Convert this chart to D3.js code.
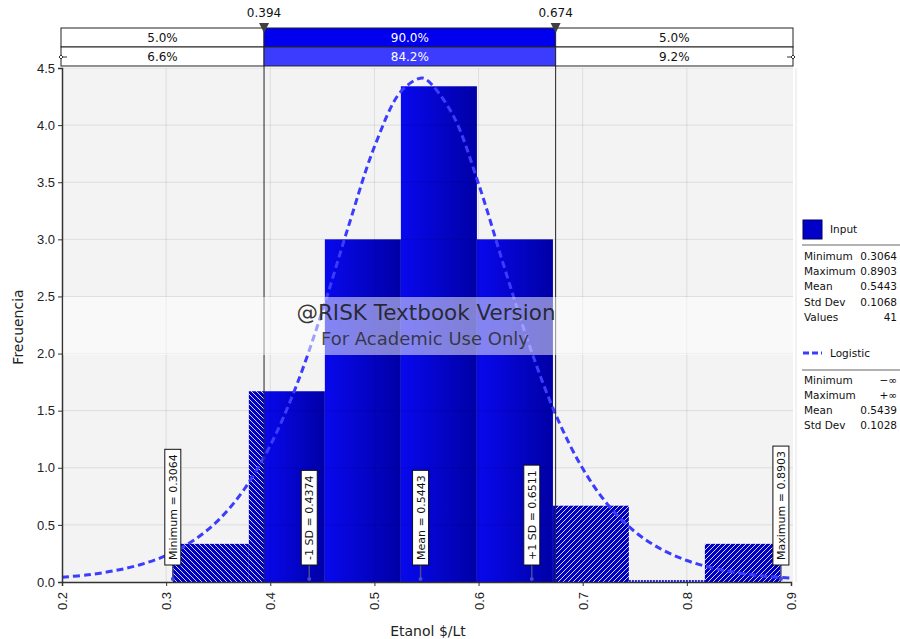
<!DOCTYPE html>
<html>
<head>
<meta charset="utf-8">
<script src="https://cdn.jsdelivr.net/npm/d3@7"></script>
<style>
body { margin: 0; background: #fff; }
svg { font-family: "DejaVu Sans", sans-serif; display: block; }
</style>
</head>
<body>
<svg width="900" height="639"></svg>
<script>
var binEdges = [0.3064, 0.3794, 0.4524, 0.5254, 0.5984, 0.6714, 0.7443, 0.8173, 0.8903];
var binHeights = [0.334, 1.67, 3.0, 4.34, 3.0, 0.668, 0.0, 0.334];

// logistic fit
var fitX = [0.2, 0.225, 0.25, 0.275, 0.3, 0.325, 0.35, 0.375, 0.4, 0.425, 0.45, 0.475, 0.5, 0.525, 0.544,
            0.55, 0.575, 0.6, 0.625, 0.65, 0.675, 0.7, 0.725, 0.75, 0.775, 0.8, 0.825, 0.85, 0.875, 0.9];
var fitY = [0.041, 0.063, 0.098, 0.151, 0.232, 0.356, 0.540, 0.812, 1.196, 1.717, 2.373, 3.112, 3.810, 4.290, 4.411,
            4.398, 4.095, 3.485, 2.747, 2.039, 1.446, 0.993, 0.667, 0.441, 0.289, 0.188, 0.122, 0.079, 0.051, 0.033];

var cursorValues = [0.394, 0.674];
var cursorLabels = ["0.394", "0.674"];
var inputRow = ["5.0%", "90.0%", "5.0%"];
var fitRow = ["6.6%", "84.2%", "9.2%"];

var markerNames = ["Minimum", "-1 SD", "Mean", "+1 SD", "Maximum"];
var markerValues = [0.3064, 0.4374, 0.5443, 0.6511, 0.8903];
var markerLabels = ["0.3064", "0.4374", "0.5443", "0.6511", "0.8903"];

var inputStatNames = ["Minimum", "Maximum", "Mean", "Std Dev", "Values"];
var inputStatValues = ["0.3064", "0.8903", "0.5443", "0.1068", "41"];
var fitStatNames = ["Minimum", "Maximum", "Mean", "Std Dev"];
var fitStatValues = ["\u2212\u221e", "+\u221e", "0.5439", "0.1028"];

var xTicks = [0.2, 0.3, 0.4, 0.5, 0.6, 0.7, 0.8, 0.9];
var yTicks = [0, 0.5, 1, 1.5, 2, 2.5, 3, 3.5, 4, 4.5];

var svg = d3.select("svg");

var x = d3.scaleLinear().domain([0.2, 0.9]).range([62, 791]);
var y = d3.scaleLinear().domain([0, 4.5]).range([582, 68]);

var defs = svg.append("defs");

var grad = defs.append("linearGradient").attr("id", "solid")
    .attr("x1", 0).attr("x2", 1).attr("y1", 0).attr("y2", 0);
grad.append("stop").attr("offset", 0).attr("stop-color", "#0808ee");
grad.append("stop").attr("offset", 1).attr("stop-color", "#0000a6");

function hatch(id, d) {
  var p = defs.append("pattern").attr("id", id)
      .attr("patternUnits", "userSpaceOnUse").attr("width", 5).attr("height", 5);
  p.append("rect").attr("width", 5).attr("height", 5).attr("fill", "#0000c4");
  p.append("path").attr("d", d).attr("stroke", "#fff").attr("stroke-width", 1).attr("stroke-opacity", 0.85);
}
hatch("hatchL", "M-1,-1L6,6M4,-1L6,1M-1,4L1,6");
hatch("hatchR", "M-1,6L6,-1M-1,1L1,-1M4,6L6,4");

// plot background
svg.append("rect")
    .attr("x", x(0.2)).attr("y", y(4.5))
    .attr("width", x(0.9) - x(0.2) + 2).attr("height", y(0) - y(4.5))
    .attr("fill", "#f3f3f3");

// bar pieces split at the cursors
var pieces = [];
binHeights.forEach(function(h, i) {
  var lo = binEdges[i], hi = binEdges[i + 1];
  var c0 = cursorValues[0], c1 = cursorValues[1];
  if (lo < c0) pieces.push({a: lo, b: Math.min(hi, c0), h: h, fill: "url(#hatchL)"});
  if (hi > c0 && lo < c1) pieces.push({a: Math.max(lo, c0), b: Math.min(hi, c1), h: h, fill: "url(#solid)"});
  if (hi > c1) pieces.push({a: Math.max(lo, c1), b: hi, h: h, fill: "url(#hatchR)"});
});

svg.append("g").selectAll("rect")
  .data(pieces.filter(function(d) { return d.h > 0; }))
  .enter().append("rect")
    .attr("x", function(d) { return x(d.a); })
    .attr("width", function(d) { return x(d.b) - x(d.a); })
    .attr("y", function(d) { return y(d.h); })
    .attr("height", function(d) { return y(0) - y(d.h); })
    .attr("fill", function(d) { return d.fill; });

svg.append("g").selectAll("line")
  .data(pieces.filter(function(d) { return d.h === 0; }))
  .enter().append("line")
    .attr("x1", function(d) { return x(d.a); })
    .attr("x2", function(d) { return x(d.b); })
    .attr("y1", y(0) - 1).attr("y2", y(0) - 1)
    .attr("stroke", "#2020e0").attr("stroke-width", 2).attr("stroke-dasharray", "2,1");

// grid (drawn faint over the bars)
var grid = svg.append("g").attr("stroke", "#000").attr("stroke-opacity", 0.09);
grid.selectAll(".gx").data(xTicks.slice(1, -1)).enter().append("line")
    .attr("x1", x).attr("x2", x).attr("y1", y(4.5)).attr("y2", y(0));
grid.selectAll(".gy").data(yTicks.slice(1)).enter().append("line")
    .attr("x1", x(0.2)).attr("x2", x(0.9) + 2).attr("y1", y).attr("y2", y);

// fitted curve
var line = d3.line()
    .x(function(d, i) { return x(fitX[i]); })
    .y(function(d) { return y(d); })
    .curve(d3.curveCatmullRom);

svg.append("path")
    .attr("d", line(fitY))
    .attr("fill", "none")
    .attr("stroke", "#3c3cff")
    .attr("stroke-width", 3)
    .attr("stroke-dasharray", "7,4");

// axes
var gX = svg.append("g")
    .attr("transform", "translate(0," + y(0) + ")")
    .call(d3.axisBottom(x).tickValues(xTicks).tickFormat(d3.format(".1f")).tickSizeOuter(0).tickSize(4));
gX.selectAll("text")
    .attr("transform", "rotate(-90)")
    .attr("text-anchor", "end")
    .attr("x", -10).attr("y", 0).attr("dy", "0.35em")
    .style("font-size", "13px").attr("fill", "#222");

var gY = svg.append("g")
    .attr("transform", "translate(" + x(0.2) + ",0)")
    .call(d3.axisLeft(y).tickValues(yTicks).tickFormat(d3.format(".1f")).tickSizeOuter(0).tickSize(4));
gY.selectAll("text").style("font-size", "13px").attr("fill", "#222");

svg.selectAll(".domain").attr("stroke", "#333").attr("stroke-width", 1.5);
svg.selectAll(".tick line").attr("stroke", "#333");

svg.append("text")
    .attr("transform", "translate(18," + 327 + ") rotate(-90)")
    .attr("text-anchor", "middle").attr("dy", "0.35em")
    .style("font-size", "14px").attr("fill", "#222")
    .text("Frecuencia");

svg.append("text")
    .attr("x", 428).attr("y", 631)
    .attr("text-anchor", "middle").attr("dy", "0.35em")
    .style("font-size", "14px").attr("fill", "#222")
    .text("Etanol $/Lt");

// cursor lines
svg.append("g").selectAll("line").data(cursorValues).enter().append("line")
    .attr("x1", x).attr("x2", x)
    .attr("y1", 28).attr("y2", y(0))
    .attr("stroke", "#222").attr("stroke-width", 1);

// markers
var mk = svg.append("g").selectAll("g").data(markerValues).enter().append("g")
    .attr("transform", function(d) { return "translate(" + x(d) + ",0)"; });

mk.append("line")
    .attr("y1", 565).attr("y2", 580)
    .attr("stroke", "#4b4b8c").attr("stroke-width", 1.5);
mk.append("circle")
    .attr("cy", 579).attr("r", 2)
    .attr("fill", "#4848c8");
var mkRect = mk.append("rect")
    .attr("x", -8).attr("width", 16)
    .attr("fill", "#fff").attr("stroke", "#111");
var mkText = mk.append("text")
    .attr("transform", "translate(0,560) rotate(-90)")
    .attr("dy", "0.36em")
    .style("font-size", "11px").attr("fill", "#111")
    .text(function(d, i) { return markerNames[i] + " = " + markerLabels[i]; });
mkText.each(function(d, i) {
  var len = this.getComputedTextLength();
  d3.select(mkRect.nodes()[i])
      .attr("y", 565 - len - 10).attr("height", len + 10);
});

// top band: delimiters and percentages
var cells = [x(0.2) - 1, x(cursorValues[0]), x(cursorValues[1]), x(0.9) + 2];
var rows = [{vals: inputRow, y: 28, mid: "#0000ee"}, {vals: fitRow, y: 47, mid: "#3c3cff"}];
rows.forEach(function(r) {
  r.vals.forEach(function(v, i) {
    svg.append("rect")
        .attr("x", cells[i]).attr("y", r.y)
        .attr("width", cells[i + 1] - cells[i]).attr("height", 19)
        .attr("fill", i === 1 ? r.mid : "#fff")
        .attr("stroke", "#222").attr("stroke-width", 1);
    svg.append("text")
        .attr("x", (cells[i] + cells[i + 1]) / 2).attr("y", r.y + 10)
        .attr("text-anchor", "middle").attr("dy", "0.35em")
        .style("font-size", "12px")
        .attr("fill", i === 1 ? "#fff" : "#111")
        .text(v);
  });
});

// small handles on the fit row
[[cells[0], 1], [cells[3], -1]].forEach(function(h) {
  svg.append("line")
      .attr("x1", h[0]).attr("x2", h[0] + 6 * h[1])
      .attr("y1", 57).attr("y2", 57)
      .attr("stroke", "#333");
  svg.append("path")
      .attr("d", "M" + (h[0] - 2) + ",57L" + h[0] + ",55L" + (h[0] + 2) + ",57L" + h[0] + ",59Z")
      .attr("fill", "#fff").attr("stroke", "#333");
});

svg.append("g").selectAll("path").data(cursorValues).enter().append("path")
    .attr("d", function(d) { var c = x(d); return "M" + (c - 5) + ",23L" + (c + 5) + ",23L" + c + ",33Z"; })
    .attr("fill", "#404040");

svg.append("g").selectAll("text").data(cursorValues).enter().append("text")
    .attr("x", x).attr("y", 13)
    .attr("text-anchor", "middle").attr("dy", "0.35em")
    .style("font-size", "12px").attr("fill", "#111")
    .text(function(d, i) { return cursorLabels[i]; });

// watermark band
svg.append("rect")
    .attr("x", x(0.2) + 1).attr("y", 297)
    .attr("width", x(0.9) - x(0.2) + 1).attr("height", 58)
    .attr("fill", "#fff").attr("fill-opacity", 0.5);
svg.append("text")
    .attr("x", 426).attr("y", 312)
    .attr("text-anchor", "middle").attr("dy", "0.35em")
    .style("font-size", "21.5px").attr("fill", "#1c1c1c").attr("fill-opacity", 0.9)
    .text("@RISK Textbook Version");
svg.append("text")
    .attr("x", 425).attr("y", 339)
    .attr("text-anchor", "middle").attr("dy", "0.35em")
    .style("font-size", "18px").attr("fill", "#2a2a2a").attr("fill-opacity", 0.85)
    .text("For Academic Use Only");

// legend
var lg = svg.append("g").style("font-size", "10.5px").attr("fill", "#111");
lg.append("line").attr("x1", 796).attr("x2", 796).attr("y1", 68).attr("y2", 582)
    .attr("stroke", "#e4e4e4");
lg.append("rect").attr("x", 803).attr("y", 220).attr("width", 19).attr("height", 19)
    .attr("fill", "#0000c8").attr("stroke", "#000060");
lg.append("text").attr("x", 830).attr("y", 229).attr("dy", "0.35em").text("Input");
lg.append("line").attr("x1", 802).attr("x2", 900).attr("y1", 245).attr("y2", 245)
    .attr("stroke", "#999").attr("stroke-width", 1.5);
inputStatNames.forEach(function(n, i) {
  lg.append("text").attr("x", 804).attr("y", 256 + i * 15.3).attr("dy", "0.35em").text(n);
  lg.append("text").attr("x", 897).attr("y", 256 + i * 15.3).attr("dy", "0.35em")
      .attr("text-anchor", "end").text(inputStatValues[i]);
});

lg.append("line").attr("x1", 803).attr("x2", 822).attr("y1", 353).attr("y2", 353)
    .attr("stroke", "#3c3cff").attr("stroke-width", 3).attr("stroke-dasharray", "6,3");
lg.append("text").attr("x", 830).attr("y", 353).attr("dy", "0.35em").text("Logistic");
lg.append("line").attr("x1", 802).attr("x2", 900).attr("y1", 370).attr("y2", 370)
    .attr("stroke", "#999").attr("stroke-width", 1.5);
fitStatNames.forEach(function(n, i) {
  lg.append("text").attr("x", 804).attr("y", 380 + i * 15).attr("dy", "0.35em").text(n);
  lg.append("text").attr("x", 897).attr("y", 380 + i * 15).attr("dy", "0.35em")
      .attr("text-anchor", "end").text(fitStatValues[i]);
});
</script>
</body>
</html>
